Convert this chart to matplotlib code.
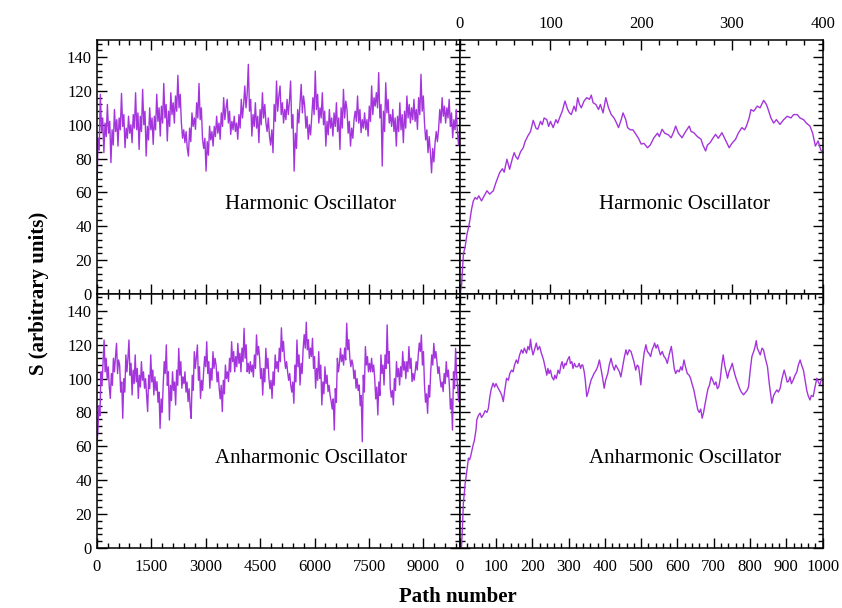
import numpy as np
import matplotlib.pyplot as plt
from matplotlib.ticker import MultipleLocator

# S along the long runs (0..10000 paths)
harm_long = [55, 92, 85, 118, 96, 104, 83.5, 101, 93, 112, 95, 102, 77.6, 97, 88, 109, 96, 103,
             87.4, 104, 97, 118.5, 99, 106, 86.4, 98, 92, 105, 95, 100, 89.4, 106, 98, 118.9, 97,
             107, 85.4, 105, 96, 120.9, 100, 108, 81.5, 99, 91, 110, 97, 104, 88.4, 105, 97, 118,
             102, 110, 93.3, 111, 101, 124.4, 104, 112, 90.4, 108, 99, 118.9, 106, 113, 101, 117,
             108, 129.2, 110, 118, 101, 92, 97, 89.4, 96, 86, 81.5, 98, 90, 107, 99, 104, 97.3,
             113, 104, 124.4, 103, 110, 91.4, 86, 92, 72.6, 90, 82, 99.2, 91, 96, 87.4, 99, 93,
             105, 95, 101, 91.4, 107, 99, 116, 103, 110, 115, 101, 108, 94.3, 102, 97, 105, 96,
             101, 91.4, 106, 98, 115, 104, 112, 122.9, 110, 118, 135.7, 108, 115, 93.3, 106, 99,
             113, 98, 105, 89.4, 109, 100, 118.9, 104, 112, 101, 96, 104, 93.3, 88, 97, 83.5, 112,
             102, 125.8, 108, 117, 122.9, 106, 113, 101, 109, 103, 115, 106, 114, 125.8, 98, 106,
             72.6, 95, 86, 109, 101, 112, 123.9, 107, 117, 111, 98, 105, 91.4, 100, 94, 105, 116,
             106, 131.7, 109, 118, 101, 110, 104, 118.9, 100, 108, 87.4, 102, 94, 109, 98, 104,
             93.3, 107, 99, 113, 96, 104, 85.4, 110, 98, 120.9, 104, 114, 109, 95, 102, 87.4, 98,
             92, 103, 108, 102, 117, 101, 109, 95.3, 103, 98, 107, 97, 103, 93.3, 111, 102, 122.9,
             106, 116, 111, 119, 110, 130.8, 104, 112, 75.6, 108, 96, 124.8, 107, 115, 101, 106,
             99, 109, 96, 104, 87.4, 105, 96, 113, 97, 106, 89.4, 108, 98, 117, 104, 112, 101,
             110, 103, 115, 102, 109, 97.3, 116, 106, 129.8, 108, 117, 101, 91, 97, 83.5, 93, 84,
             71.6, 86, 78, 89.4, 96, 90, 97.3, 109, 101, 116, 105, 111, 101, 110, 104, 115, 99,
             107, 92.3, 103, 97, 109, 96, 88, 98]
anharm_long = [60, 68.7, 84, 78, 104, 96, 110, 122.8, 104, 112, 100, 107, 95, 88.3, 103, 96, 112,
               104, 113, 120.8, 103, 111, 108, 92, 98, 76.5, 100, 92, 114, 104, 112, 122.8, 102,
               109, 90.3, 105, 97, 114, 98, 106, 88.3, 102, 95, 110, 99, 104, 94.3, 100, 90, 80.5,
               102, 94, 114, 98, 105, 90.3, 101, 93, 98.2, 86, 92, 70.6, 88, 80, 96.2, 110, 103,
               119.9, 96, 104, 75.5, 96, 87, 104, 93, 98, 84.4, 105, 96, 117.9, 102, 110, 94.3,
               101, 97, 104, 92, 98, 86.4, 94, 83, 76.5, 102, 93, 115.9, 106, 113, 119.9, 99, 107,
               88.3, 99, 93, 104, 113, 107, 121.8, 103, 110, 94.3, 106, 99, 115.9, 106, 112, 108,
               98, 104, 94.3, 88, 96, 80.5, 99, 91, 108, 100, 104, 98.2, 112, 104, 121.8, 110, 116,
               104, 113, 107, 120.8, 109, 115, 104, 118, 110, 129.7, 112, 120, 104, 109, 103, 110,
               104, 108, 101, 114, 106, 125.8, 114, 119, 112, 100, 106, 90.3, 106, 98, 117.9, 106,
               112, 100, 94, 99, 88.3, 104, 96, 114, 106, 110, 104, 118, 110, 130, 116, 122, 112,
               106, 110, 104, 99, 103, 96.2, 92, 98, 85.4, 108, 98, 122.8, 107, 114, 96.2, 109,
               103, 117.9, 126, 118, 133.3, 117, 123, 112, 118, 113, 123.8, 106, 113, 94.3, 106,
               99, 115.9, 100, 108, 84.4, 98, 91, 107, 97, 102, 92.3, 96, 90, 86.4, 82, 88, 69.6,
               94, 86, 112, 104, 109, 117.9, 110, 114, 108, 118, 111, 132.7, 117, 123, 112, 107,
               111, 108, 100, 105, 94.3, 100, 93, 96.2, 84, 90, 62.7, 102, 92, 118.9, 108, 113,
               104, 109, 104, 112, 104, 108, 100, 88, 95, 78.5, 98, 90, 114, 103, 108, 96.2, 114,
               106, 131.7, 109, 116, 94.3, 89, 93, 84.4, 100, 93, 110, 101, 106, 96.2, 107, 101,
               115.9, 105, 110, 100, 110, 104, 118.9, 106, 112, 98.2, 103, 99, 104, 110, 105, 114,
               121, 116, 125.8, 108, 116, 96.2, 86, 91, 79.5, 96, 89, 104, 114, 108, 120.8, 112,
               116, 110, 103, 107, 100, 95, 98, 92.3, 103, 97, 110, 101, 105, 96.2, 82, 88, 69.6,
               104, 94, 117.9, 102, 95, 86.4, 100]

# first 400 paths of the harmonic run
harm_x = [0, 2, 4, 6, 8, 10, 11, 13, 15, 17, 19, 21, 24, 27, 30, 33, 37, 40, 44, 47, 49, 52,
          55, 58, 60, 62, 64, 67, 70, 72, 75, 78, 81, 84, 86, 89, 91, 93, 96, 98, 100, 103, 106,
          108, 110, 113, 116, 119, 121, 123, 126, 128, 130, 132, 134, 137, 140, 143, 145, 147,
          150, 153, 155, 158, 161, 164, 167, 170, 172, 175, 178, 180, 183, 185, 188, 191, 194,
          197, 200, 203, 207, 210, 214, 218, 220, 223, 226, 230, 233, 236, 238, 241, 245, 249,
          253, 255, 258, 262, 266, 268, 271, 273, 276, 279, 282, 285, 289, 292, 297, 300, 304,
          307, 311, 314, 316, 319, 321, 324, 328, 331, 335, 338, 340, 343, 346, 349, 353, 357,
          361, 365, 368, 372, 375, 379, 382, 386, 389, 392, 395, 398, 400]
harm_y = [0, 5, 23.5, 28, 35.3, 40, 43, 50, 55, 57, 56, 58, 55, 58, 61, 59, 61, 66, 71.7, 74,
          72, 79.6, 73.7, 80, 83.5, 81, 79.6, 84, 86.4, 90, 93.3, 96, 102.6, 98, 97.3, 102, 100,
          104, 103, 99, 102, 98.3, 103, 101, 104, 108, 114, 109, 107, 106, 111, 108, 116, 112,
          110, 114, 116, 115, 117.5, 113, 112, 109, 112, 107, 116, 110, 106, 104, 102, 98.3, 103,
          107, 103, 98.3, 97, 97, 94.5, 92, 88.6, 89, 86.4, 88, 92.3, 95, 93, 97.3, 95, 94, 92.3,
          96, 99.2, 95, 92.3, 96, 99.2, 96, 95.3, 93, 91.4, 88, 84.5, 88, 89.4, 92, 94.3, 92,
          95.3, 92, 86.4, 89, 91.4, 95, 98.3, 97, 99.2, 104, 109, 108, 111, 110, 114.4, 112, 109,
          104, 101, 103, 100.2, 103, 105, 104, 106, 106, 104, 103, 101, 99.2, 95, 87.4, 90.4, 85,
          83.5]

# first 1000 paths of the anharmonic run
anharm_x = [0, 5, 8, 10, 13, 15, 20, 24, 27, 30, 34, 38, 40, 42, 45, 47, 51, 56, 60, 65, 70,
            75, 79, 81, 83, 87, 92, 96, 100, 106, 112, 116, 120, 124, 129, 134, 138, 143, 147,
            151, 156, 160, 165, 170, 174, 178, 184, 188, 192, 195, 198, 202, 206, 211, 215, 220,
            225, 228, 231, 235, 240, 243, 246, 250, 254, 259, 262, 266, 271, 275, 279, 282, 286,
            290, 293, 297, 302, 305, 309, 312, 316, 320, 325, 329, 333, 336, 339, 343, 346, 350,
            354, 358, 362, 366, 370, 376, 380, 385, 389, 394, 398, 402, 405, 408, 412, 417, 421,
            426, 430, 435, 440, 444, 448, 453, 458, 462, 467, 472, 476, 480, 485, 489, 493, 496,
            499, 503, 508, 513, 517, 521, 526, 530, 534, 537, 541, 545, 549, 553, 558, 563, 567,
            572, 577, 583, 587, 591, 595, 600, 605, 609, 613, 618, 622, 627, 632, 636, 640, 645,
            650, 656, 660, 664, 668, 672, 676, 680, 684, 688, 693, 697, 702, 706, 710, 714, 718,
            722, 726, 730, 734, 738, 742, 746, 751, 755, 760, 765, 771, 776, 782, 788, 792, 796,
            800, 805, 810, 814, 817, 820, 824, 828, 833, 837, 842, 848, 853, 860, 865, 870, 874,
            878, 883, 888, 894, 899, 902, 906, 910, 914, 919, 924, 929, 933, 938, 942, 947, 951,
            956, 960, 965, 969, 974, 978, 984, 988, 993, 997, 1000]
anharm_y = [0, 0.8, 15, 26.4, 33, 38.2, 46, 53, 52, 54, 58, 61.8, 63, 65.8, 70, 75.6, 78, 79.6,
            77, 78.6, 81, 80, 82.5, 86, 89.4, 94, 97.3, 95, 97, 94.3, 92, 90, 86.4, 93, 100.2, 99,
            103, 105, 104, 108, 111, 109, 114, 117, 115, 118, 115, 119, 117, 123.3, 118, 114, 117,
            121, 117, 119, 115, 113, 111, 107, 102, 106, 103, 105, 101, 99.2, 102, 100, 105, 103,
            108, 110, 106, 109, 108, 111, 113, 109, 110, 106, 109, 107, 107, 109, 106, 108, 108,
            104, 99, 89.4, 92, 96, 99.2, 101, 103, 105, 107, 111, 106, 100, 94.3, 99, 101, 103,
            108, 112, 108, 105, 108, 106, 104, 101, 106, 112, 117, 114, 117, 116, 113, 110, 105,
            108, 107, 102, 96.3, 106, 115, 120, 116, 115, 113, 117, 119, 121, 118, 120, 117, 114,
            116, 113, 112, 109, 114, 119, 113, 106, 103, 105, 104, 107, 105, 111, 107, 103, 102,
            100.2, 97, 93.3, 88, 81.5, 80, 82, 76.6, 80, 85, 89.4, 94, 96, 101, 99, 96.3, 98, 94,
            95.3, 100, 108, 114, 108, 104, 100.2, 104, 106, 109, 105, 101, 98, 94.3, 92, 90.4, 92,
            93, 95.3, 104, 113, 116, 119, 122.4, 118, 116, 114, 118, 117, 112, 107, 97, 85.4, 90,
            92, 93.3, 92, 94.3, 100, 105, 101, 98, 98.3, 101, 97, 99.2, 102, 104, 108, 111, 108,
            105, 100, 93.3, 90, 87.4, 90, 89.4, 94, 100.2, 98, 96.3, 100.2, 99]

labels = ["Harmonic Oscillator", "Anharmonic Oscillator"]

plt.rcParams['font.family'] = 'Liberation Serif'
color = '#a435dc'

fig, axes = plt.subplots(2, 2, figsize=(8.42, 6.08), dpi=100)
fig.subplots_adjust(left=0.115, right=0.977, top=0.934, bottom=0.099, wspace=0, hspace=0)

long_runs = [harm_long, anharm_long]
short_runs = [(harm_x, harm_y, 400), (anharm_x, anharm_y, 1000)]

for row in range(2):
    axl, axr = axes[row]
    y = np.array(long_runs[row])
    x = np.linspace(0, 10000, len(y))
    axl.plot(x, y, color=color, lw=1.0)
    axl.set_xlim(0, 10000)
    axl.xaxis.set_major_locator(MultipleLocator(1500))
    axl.xaxis.set_minor_locator(MultipleLocator(300))

    sx, sy, xmax = short_runs[row]
    axr.plot(sx, sy, color=color, lw=1.0)
    axr.set_xlim(0, xmax)
    axr.xaxis.set_major_locator(MultipleLocator(100))
    axr.xaxis.set_minor_locator(MultipleLocator(20))

    for ax in (axl, axr):
        ax.set_ylim(0, 150)
        ax.yaxis.set_major_locator(MultipleLocator(20))
        ax.yaxis.set_minor_locator(MultipleLocator(4))
        ax.tick_params(which='both', direction='in', top=True, right=True,
                       labelsize=12, width=1.0)
        ax.tick_params(which='major', length=7)
        ax.tick_params(which='minor', length=3.5)
        for s in ax.spines.values():
            s.set_linewidth(1.1)
        ax.tick_params(labelleft=False, labelbottom=False)

    axl.tick_params(labelleft=True)
    axl.text(5900, 53, labels[row], fontsize=15, ha='center', va='center')
    axr.text(0.62 * xmax, 53, labels[row], fontsize=15, ha='center', va='center')

axes[1, 0].tick_params(labelbottom=True)
axes[1, 1].tick_params(labelbottom=True)
axes[0, 1].tick_params(labeltop=True)
for ax in axes[1]:
    ax.tick_params(axis='x', pad=8)
axes[0, 1].tick_params(axis='x', pad=6)

fig.text(0.046, 0.517, "S (arbitrary units)", rotation=90, fontsize=15, fontweight='bold',
         ha='center', va='center')
fig.text(0.544, 0.018, "Path number", fontsize=15, fontweight='bold', ha='center', va='center')

fig.savefig("out.png", dpi=100)
